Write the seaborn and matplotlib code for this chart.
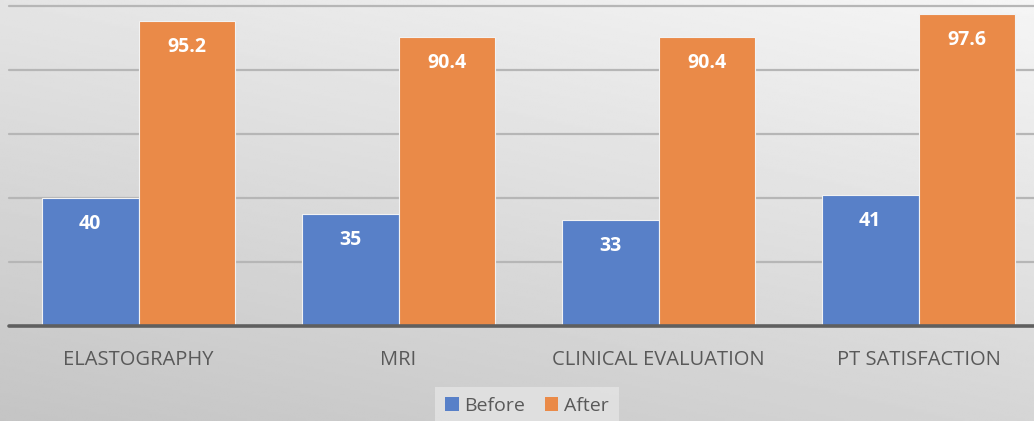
import numpy as np
import pandas as pd
import matplotlib.pyplot as plt
import seaborn as sns
from matplotlib.patches import Patch

categories = ["ELASTOGRAPHY", "MRI", "CLINICAL EVALUATION", "PT SATISFACTION"]
before = [40, 35, 33, 41]
after = [95.2, 90.4, 90.4, 97.6]
series_names = ["Before", "After"]
colors = ["#5880C8", "#EA8A48"]

df = pd.DataFrame({
    "Category": categories * 2,
    "Score": before + after,
    "Series": [series_names[0]] * 4 + [series_names[1]] * 4,
})

sns.set_style("white")
plt.rcParams["font.family"] = ["Open Sans", "DejaVu Sans"]

fig = plt.figure(figsize=(10.34, 4.21), dpi=100)

# gray gradient background, lighter towards the top right
bg = fig.add_axes([0, 0, 1, 1], zorder=-1)
yy, xx = np.mgrid[0:1:200j, 0:1:400j]
grad = 0.35 * xx + 0.65 * yy
bg.imshow(grad, cmap="gray", vmin=-4.0, vmax=1.2, aspect="auto",
          extent=[0, 1, 0, 1], origin="lower")
bg.axis("off")

W, H = 1034, 421
ax = fig.add_axes([8.5 / W, 95 / H, 1040 / W, 320 / H])
ax.patch.set_alpha(0)

sns.barplot(data=df, x="Category", y="Score", hue="Series", palette=colors,
            width=0.746, saturation=1, edgecolor="#f2f2f2", linewidth=0.8,
            legend=False, ax=ax, zorder=3)

ax.set_xlim(-0.5, 3.5)
ax.set_ylim(0, 100)
for v in [20, 40, 60, 80, 100]:
    ax.axhline(v, color="#b6b6b6", lw=1.6, zorder=1, clip_on=False)
ax.axhline(0, color="#5f5f5f", lw=2.6, zorder=4, clip_on=False)

for s in ax.spines.values():
    s.set_visible(False)
ax.set_yticks([])
ax.set_xlabel("")
ax.set_ylabel("")
ax.tick_params(axis="x", length=0, pad=17, labelsize=14.5, labelcolor="#595959")

for container in ax.containers:
    for bar in container:
        h = bar.get_height()
        ax.text(bar.get_x() + bar.get_width() / 2, h - 26 / 3.2,
                f"{h:g}", ha="center", va="center", color="white",
                fontsize=14, fontweight="bold", zorder=5)

handles = [Patch(facecolor=c, edgecolor="none") for c in colors]
leg = fig.legend(handles, series_names, loc="center", ncol=2,
                 bbox_to_anchor=(527 / W, 1 - 406 / H), frameon=True,
                 fontsize=14, handlelength=0.7, handleheight=0.7,
                 handletextpad=0.3, columnspacing=1.0, borderpad=0.5)
leg.get_frame().set_facecolor("#e4e4e4")
leg.get_frame().set_edgecolor("none")
leg.get_frame().set_boxstyle("square", pad=0)
for t in leg.get_texts():
    t.set_color("#595959")

fig.savefig("out.png", dpi=100)
